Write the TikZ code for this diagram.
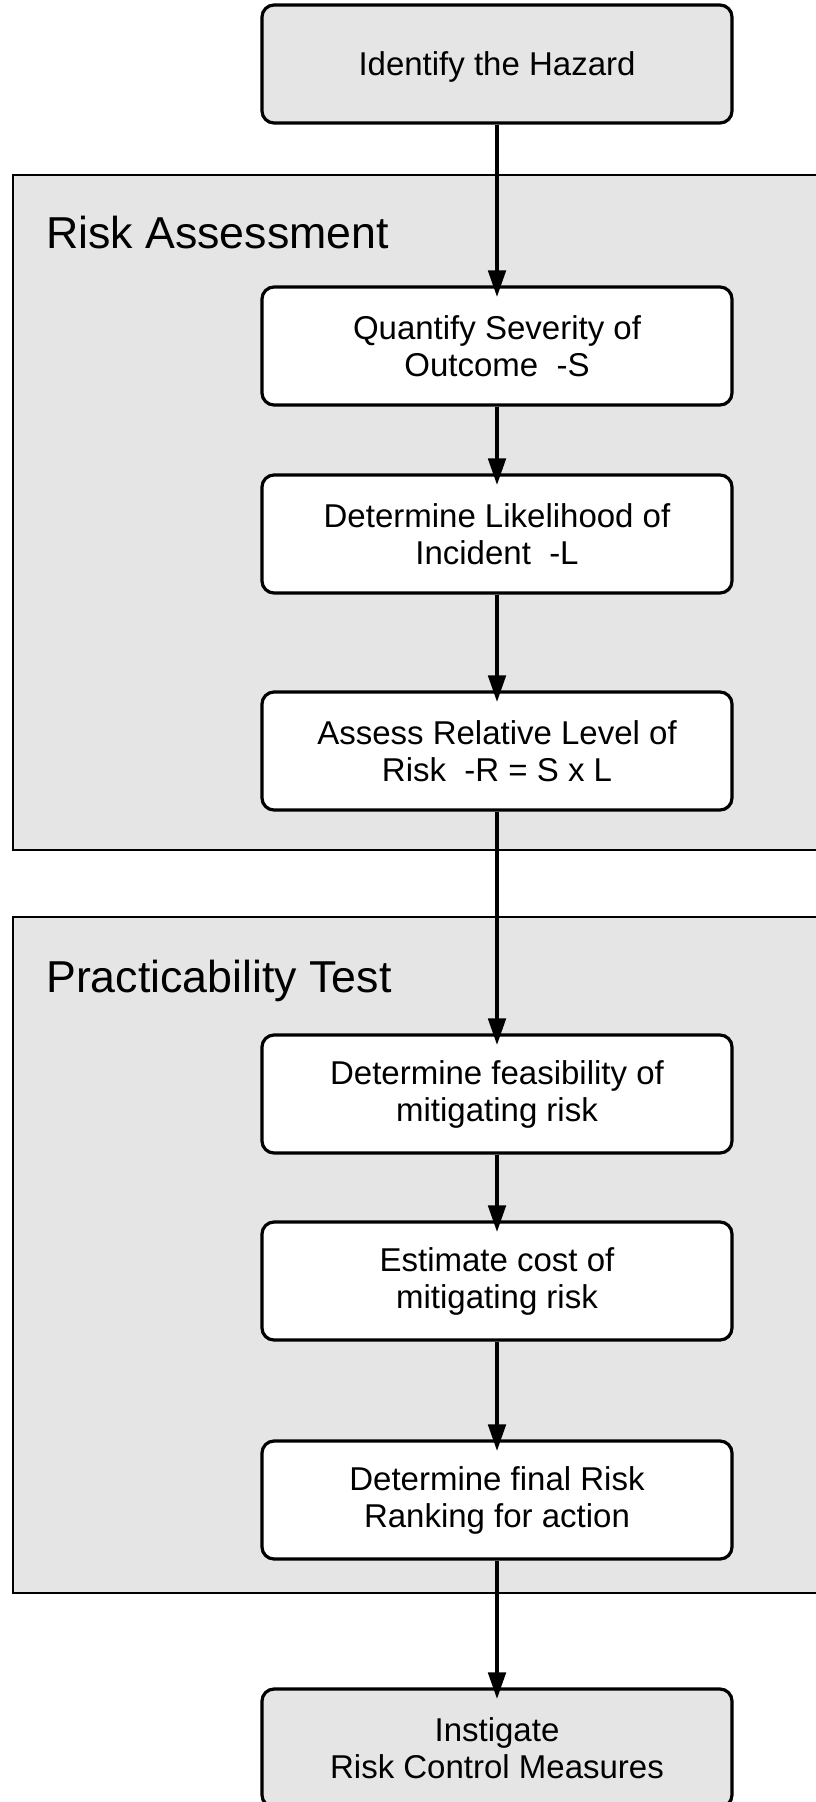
\documentclass[tikz,border=0pt]{standalone}
\usepackage{fontspec}
\setmainfont{Liberation Sans}
\usetikzlibrary{arrows.meta}
\definecolor{panelgray}{HTML}{E5E5E5}
\begin{document}
\begin{tikzpicture}[x=1pt,y=-1pt,
  panel/.style={draw=black, fill=panelgray, line width=2pt},
  stepbox/.style={draw=black, fill=white, line width=3.2pt, rounded corners=12pt,
    minimum width=470pt, minimum height=118pt, align=center, inner sep=0pt,
    font=\fontsize{33}{37}\selectfont},
  graybox/.style={stepbox, fill=panelgray},
  paneltitle/.style={anchor=base west, inner sep=0pt, font=\fontsize{44.7}{50}\selectfont},
  flow/.style={line width=4.8pt, -{Triangle[length=27pt,width=17pt]}, shorten >=-12pt}]
\useasboundingbox (0,0) rectangle (816,1802);
\clip (0,0) rectangle (816,1802);
% panels
\draw[panel] (12.7,175) rectangle (830,850);
\draw[panel] (12.7,917) rectangle (830,1593);
\node[paneltitle] (ratitle) at (46,248.6) {Risk Assessment};
\node[paneltitle] (pttitle) at (46,992) {Practicability Test};
% steps
\node[graybox, text height=23.6pt, text depth=0pt] (hazard) at (497,64) {Identify the Hazard};
\node[stepbox] (sev) at (497,346) {Quantify Severity of\\Outcome\ \ -S};
\node[stepbox] (like) at (497,534) {Determine Likelihood of\\Incident\ \ -L};
\node[stepbox] (assess) at (497,751) {Assess Relative Level of\\Risk\ \ -R = S x L};
\node[stepbox] (feas) at (497,1094) {Determine feasibility of\\mitigating risk};
\node[stepbox] (cost) at (497,1281) {Estimate cost of\\mitigating risk};
\node[stepbox] (rank) at (497,1500) {Determine final Risk\\Ranking for action};
\node[graybox] (instig) at (497,1748) {Instigate\\Risk Control Measures};
% connectors
\draw[flow] (hazard.south) -- (sev.north);
\draw[flow] (sev.south) -- (like.north);
\draw[flow] (like.south) -- (assess.north);
\draw[flow] (assess.south) -- (feas.north);
\draw[flow] (feas.south) -- (cost.north);
\draw[flow] (cost.south) -- (rank.north);
\draw[flow] (rank.south) -- (instig.north);
\end{tikzpicture}
\end{document}
